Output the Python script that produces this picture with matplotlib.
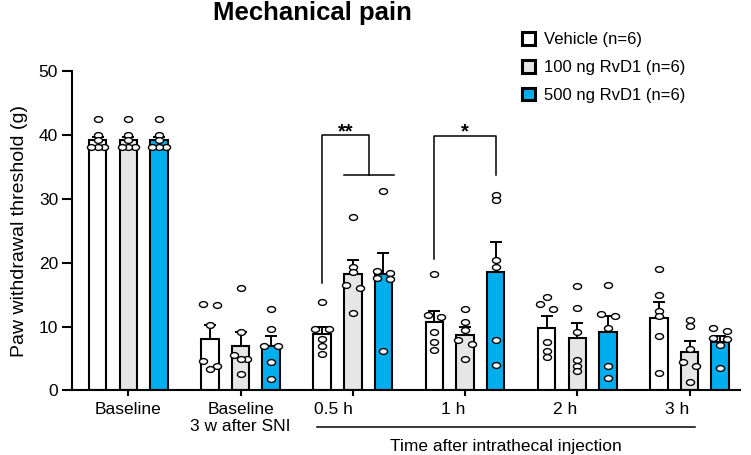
import numpy as np
import matplotlib
matplotlib.use("Agg")
import matplotlib.pyplot as plt
from matplotlib.patches import Patch
from matplotlib.path import Path
from matplotlib.transforms import blended_transform_factory, Affine2D

plt.rcParams['font.family'] = ['Liberation Sans', 'DejaVu Sans']

# data
groups = ["Baseline", "Baseline\n3 w after SNI", "0.5 h", "1 h", "2 h", "3 h"]
series = ["Vehicle (n=6)", "100 ng RvD1 (n=6)", "500 ng RvD1 (n=6)"]

vehicle_mean = [39.3, 8.0, 8.8, 10.7, 9.8, 11.4]
vehicle_sem = [0.5, 2.2, 1.2, 1.8, 1.9, 2.4]
rvd100_mean = [39.3, 7.0, 18.3, 8.7, 8.2, 6.1]
rvd100_sem = [0.5, 2.1, 2.1, 1.2, 2.3, 1.7]
rvd500_mean = [39.3, 7.0, 18.2, 18.5, 9.2, 7.6]
rvd500_sem = [0.5, 1.6, 3.4, 4.7, 2.4, 0.9]

vehicle_pts = [
    [42.5, 40.0, 39.2, 38.2, 38.2, 38.2],
    [13.5, 13.4, 10.2, 4.6, 3.9, 3.4],
    [13.8, 9.6, 9.6, 8.1, 6.9, 5.7],
    [18.3, 11.8, 11.5, 9.2, 7.6, 6.4],
    [14.7, 13.5, 12.8, 7.6, 6.2, 5.3],
    [19.0, 14.9, 12.4, 11.6, 8.6, 2.7],
]
rvd100_pts = [
    [42.5, 40.0, 39.2, 38.2, 38.2, 38.2],
    [16.0, 9.1, 5.6, 4.9, 4.9, 2.6],
    [27.2, 19.4, 18.6, 16.6, 16.1, 12.1],
    [12.8, 10.7, 9.5, 7.9, 7.3, 4.9],
    [16.4, 12.9, 9.1, 4.7, 3.9, 3.1],
    [11.1, 10.1, 6.5, 4.4, 3.8, 1.4],
]
rvd500_pts = [
    [42.5, 40.0, 39.2, 38.2, 38.2, 38.2],
    [12.7, 9.7, 7.0, 7.0, 4.4, 1.8],
    [31.3, 18.8, 18.4, 17.7, 17.5, 6.2],
    [30.7, 29.9, 20.5, 19.3, 7.9, 4.0],
    [16.6, 12.0, 11.7, 9.8, 3.9, 2.0],
    [9.8, 9.3, 8.2, 8.1, 7.1, 3.6],
]

means = [vehicle_mean, rvd100_mean, rvd500_mean]
sems = [vehicle_sem, rvd100_sem, rvd500_sem]
points = [vehicle_pts, rvd100_pts, rvd500_pts]
colors = ["white", "#E6E6E6", "#00AEEF"]


def row_offsets(vals, thr=0.75, dx=0.06):
    # group close values into rows and spread each row sideways
    order = np.argsort(vals)[::-1]
    offs = np.zeros(len(vals))
    rows = []
    for i in order:
        if rows and vals[rows[-1][0]] - vals[i] < thr:
            rows[-1].append(i)
        else:
            rows.append([i])
    for r in rows:
        k = len(r)
        if k % 2:
            steps = [(j - (k - 1) / 2) for j in range(k)]
        else:
            steps = [s for s in range(-(k // 2), k // 2 + 1) if s != 0]
        for idx, s in zip(r, steps):
            offs[idx] = s * dx
    return offs


ellipse = Path.unit_circle().transformed(Affine2D().scale(1.0, 0.72))

fig = plt.figure(figsize=(7.51, 4.55), dpi=100)
ax = fig.add_axes([0.0959, 0.1418, 0.8895, 0.7011])

x = np.arange(len(groups))
shift = [-0.273, 0.0, 0.273]
width = 0.156

for s in range(3):
    xs = x + shift[s]
    ax.bar(xs, means[s], width, color=colors[s], edgecolor="black",
           linewidth=1.5, zorder=2)
    ax.errorbar(xs, means[s], yerr=[np.zeros(len(groups)), sems[s]],
                fmt="none", ecolor="black", elinewidth=1.4, capsize=4.5,
                capthick=1.4, zorder=3)
    for g in range(len(groups)):
        vals = np.array(points[s][g])
        px = xs[g] + row_offsets(vals)
        ax.plot(px, vals, linestyle="none", marker=ellipse, markersize=5.8,
                markerfacecolor="white", markeredgecolor="black",
                markeredgewidth=1.0, zorder=4)

# significance brackets
lw_b = 1.1
ax.plot([2 - 0.273, 2 - 0.273, 2.14, 2.14], [16.8, 40.1, 40.1, 33.8],
        color="black", lw=lw_b, zorder=5)
ax.plot([1.92, 2.37], [33.8, 33.8], color="black", lw=lw_b, zorder=5)
ax.text(1.94, 39.7, "**", ha="center", va="baseline", fontsize=14.5,
        fontweight="bold")
ax.plot([3 - 0.273, 3 - 0.273, 3.273, 3.273], [20.6, 39.9, 39.9, 33.8],
        color="black", lw=lw_b, zorder=5)
ax.text(3.0, 39.7, "*", ha="center", va="baseline", fontsize=14.5,
        fontweight="bold")

ax.set_xlim(-0.5016, 5.45)
ax.set_ylim(0, 50)
ax.set_yticks([0, 10, 20, 30, 40, 50])
ax.set_xticks(x)
ax.set_xticklabels(groups, fontsize=12.5)
for lab in ax.get_xticklabels()[2:]:
    lab.set_ha("right")
ax.tick_params(axis="y", labelsize=12.5, length=7, width=1.5, pad=3)
ax.tick_params(axis="x", length=4.5, width=1.5, pad=3.5)
for side in ["top", "right"]:
    ax.spines[side].set_visible(False)
for side in ["left", "bottom"]:
    ax.spines[side].set_linewidth(1.5)
ax.set_ylabel("Paw withdrawal threshold (g)", fontsize=14, labelpad=8)

# time bracket below axis
tr = blended_transform_factory(ax.transData, ax.transAxes)
ax.plot([1.68, 5.046], [-0.1135, -0.1135], color="black", lw=1.1,
        transform=tr, clip_on=False)
ax.text(3.363, -0.176, "Time after intrathecal injection", transform=tr,
        ha="center", va="center", fontsize=12.5)

fig.text(213 / 751, 1 - 20 / 455, "Mechanical pain", ha="left",
         va="baseline", fontsize=18.5, fontweight="bold")

handles = [Patch(facecolor=c, edgecolor="black", linewidth=2.2) for c in colors]
fig.legend(handles, series, loc="upper left",
           bbox_to_anchor=(522 / 751, 1 - 32 / 455), frameon=False,
           fontsize=12, handlelength=0.8, handleheight=0.8,
           handletextpad=0.55, labelspacing=0.76, borderpad=0,
           borderaxespad=0)

fig.savefig("out.png", dpi=100)
